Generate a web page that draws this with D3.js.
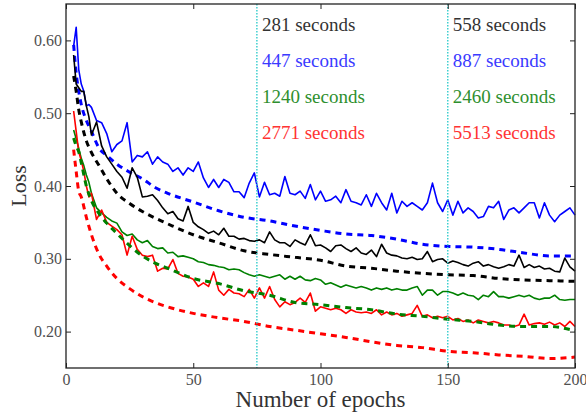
<!DOCTYPE html>
<html>
<head>
<meta charset="utf-8">
<script src="https://cdnjs.cloudflare.com/ajax/libs/d3/7.8.5/d3.min.js"></script>
<style>
  body { margin: 0; background: #fff; }
</style>
</head>
<body>
<div id="chart"></div>
<script>
// epochs for the noisy (solid) runs and for the smooth (dashed) runs
var epochs = d3.range(3, 10).concat(d3.range(10, 201, 2));
var smoothEpochs = [3, 4, 5, 6, 8, 10, 13, 16, 20, 25, 30, 35, 40, 50, 60, 70, 80, 90, 100, 110, 120, 130, 140, 150, 160, 170, 180, 190, 200];

var blueSolid = [0.592, 0.618, 0.560, 0.540, 0.530, 0.510, 0.512,
  0.508, 0.490, 0.487, 0.472, 0.447, 0.457, 0.462, 0.487, 0.433, 0.442,
  0.440, 0.447, 0.430, 0.440, 0.433, 0.430, 0.420, 0.425, 0.415, 0.425,
  0.420, 0.433, 0.411, 0.398, 0.409, 0.398, 0.409, 0.405, 0.392, 0.392,
  0.384, 0.404, 0.418, 0.385, 0.405, 0.388, 0.390, 0.386, 0.413, 0.390,
  0.388, 0.393, 0.383, 0.402, 0.381, 0.393, 0.379, 0.381, 0.386, 0.377,
  0.395, 0.379, 0.377, 0.374, 0.388, 0.372, 0.390, 0.377, 0.367, 0.390,
  0.363, 0.379, 0.372, 0.377, 0.372, 0.367, 0.377, 0.404, 0.377, 0.365,
  0.381, 0.360, 0.379, 0.363, 0.370, 0.365, 0.356, 0.358, 0.372, 0.370,
  0.379, 0.354, 0.367, 0.370, 0.363, 0.370, 0.377, 0.377, 0.356, 0.377,
  0.360, 0.351, 0.360, 0.365, 0.370, 0.360];

var blackSolid = [0.580, 0.540, 0.535, 0.530, 0.530, 0.510, 0.495,
  0.470, 0.488, 0.455, 0.440, 0.430, 0.420, 0.412, 0.397, 0.425, 0.412,
  0.385, 0.386, 0.388, 0.380, 0.370, 0.362, 0.365, 0.355, 0.352, 0.372,
  0.350, 0.344, 0.340, 0.335, 0.338, 0.333, 0.342, 0.331, 0.331, 0.327,
  0.328, 0.325, 0.324, 0.326, 0.322, 0.337, 0.326, 0.322, 0.322, 0.317,
  0.326, 0.322, 0.319, 0.333, 0.318, 0.319, 0.315, 0.310, 0.318, 0.319,
  0.314, 0.310, 0.315, 0.308, 0.306, 0.312, 0.303, 0.320, 0.308, 0.305,
  0.304, 0.301, 0.300, 0.302, 0.299, 0.300, 0.310, 0.296, 0.299, 0.300,
  0.294, 0.297, 0.295, 0.292, 0.290, 0.294, 0.296, 0.290, 0.292, 0.289,
  0.287, 0.289, 0.292, 0.290, 0.305, 0.288, 0.292, 0.288, 0.290, 0.286,
  0.287, 0.283, 0.282, 0.301, 0.289, 0.283];

var greenSolid = [0.477, 0.465, 0.452, 0.438, 0.428, 0.415, 0.405,
  0.390, 0.370, 0.363, 0.357, 0.352, 0.349, 0.337, 0.332, 0.334, 0.326,
  0.322, 0.325, 0.317, 0.314, 0.315, 0.308, 0.309, 0.303, 0.304, 0.302,
  0.300, 0.296, 0.295, 0.292, 0.291, 0.289, 0.288, 0.285, 0.286, 0.285,
  0.281, 0.278, 0.276, 0.278, 0.276, 0.274, 0.276, 0.278, 0.272, 0.276,
  0.272, 0.276, 0.271, 0.270, 0.273, 0.271, 0.265, 0.267, 0.264, 0.261,
  0.264, 0.262, 0.260, 0.262, 0.260, 0.257, 0.260, 0.258, 0.260, 0.257,
  0.259, 0.257, 0.257, 0.260, 0.262, 0.250, 0.257, 0.257, 0.250, 0.255,
  0.255, 0.253, 0.250, 0.253, 0.250, 0.249, 0.244, 0.250, 0.248, 0.255,
  0.248, 0.248, 0.246, 0.248, 0.250, 0.248, 0.250, 0.246, 0.244, 0.246,
  0.246, 0.250, 0.244, 0.243, 0.244, 0.244];

var redSolid = [0.503, 0.475, 0.447, 0.435, 0.420, 0.400, 0.385,
  0.390, 0.354, 0.367, 0.350, 0.345, 0.340, 0.333, 0.305, 0.331, 0.313,
  0.305, 0.303, 0.305, 0.283, 0.287, 0.286, 0.299, 0.280, 0.276, 0.275,
  0.272, 0.262, 0.267, 0.262, 0.282, 0.257, 0.250, 0.258, 0.253, 0.252,
  0.248, 0.258, 0.246, 0.260, 0.246, 0.262, 0.244, 0.234, 0.241, 0.237,
  0.240, 0.246, 0.240, 0.253, 0.228, 0.234, 0.232, 0.230, 0.232, 0.230,
  0.225, 0.230, 0.227, 0.226, 0.227, 0.225, 0.230, 0.223, 0.227, 0.223,
  0.225, 0.221, 0.223, 0.225, 0.236, 0.221, 0.223, 0.219, 0.221, 0.219,
  0.221, 0.216, 0.218, 0.214, 0.216, 0.212, 0.216, 0.214, 0.212, 0.214,
  0.212, 0.209, 0.209, 0.207, 0.209, 0.224, 0.209, 0.211, 0.212, 0.210,
  0.213, 0.209, 0.212, 0.207, 0.214, 0.207];

var blueDashed = [0.594, 0.555, 0.530, 0.512, 0.490, 0.475, 0.452, 0.442, 0.430, 0.419, 0.410, 0.398, 0.390, 0.378, 0.366, 0.357, 0.352, 0.345, 0.339, 0.334, 0.332, 0.327, 0.320, 0.317, 0.316, 0.313, 0.308, 0.304, 0.304];
var blackDashed = [0.551, 0.530, 0.505, 0.488, 0.462, 0.446, 0.428, 0.410, 0.390, 0.376, 0.365, 0.356, 0.348, 0.333, 0.322, 0.311, 0.306, 0.302, 0.298, 0.290, 0.287, 0.283, 0.280, 0.278, 0.277, 0.273, 0.271, 0.270, 0.269];
var greenDashed = [0.466, 0.455, 0.447, 0.432, 0.400, 0.380, 0.362, 0.349, 0.335, 0.318, 0.304, 0.294, 0.287, 0.273, 0.266, 0.256, 0.250, 0.240, 0.237, 0.233, 0.230, 0.224, 0.221, 0.217, 0.214, 0.209, 0.207, 0.207, 0.201];
var redDashed = [0.450, 0.420, 0.393, 0.385, 0.357, 0.333, 0.306, 0.290, 0.273, 0.259, 0.248, 0.240, 0.234, 0.225, 0.219, 0.214, 0.207, 0.202, 0.197, 0.192, 0.186, 0.181, 0.178, 0.173, 0.171, 0.168, 0.166, 0.163, 0.165];

var markerEpochs = [75, 150];
var timeLabels = [
  ["281 seconds", "447 seconds", "1240 seconds", "2771 seconds"],
  ["558 seconds", "887 seconds", "2460 seconds", "5513 seconds"]
];
var labelColors = ["#333333", "#3a3aff", "#2e8f2e", "#ff3333"];
var xTicks = [0, 50, 100, 150, 200];
var yTicks = [0.2, 0.3, 0.4, 0.5, 0.6];

var serif = "'Liberation Serif', 'Times New Roman', 'DejaVu Serif', serif";

var margin = { top: 4, right: 11, bottom: 44, left: 66 };
var width = 586 - margin.left - margin.right;
var height = 412 - margin.top - margin.bottom;

var svg = d3
  .select("#chart")
  .append("svg")
  .attr("width", 586)
  .attr("height", 412)
  .append("g")
  .attr("transform", "translate(" + margin.left + "," + margin.top + ")");

var x = d3.scaleLinear().domain([0, 200]).range([0, width]);
var y = d3.scaleLinear().domain([0.15, 0.65]).range([height, 0]);

var solidLine = d3
  .line()
  .x(function (d, i) { return x(epochs[i]); })
  .y(function (d) { return y(d); });

var dashedLine = d3
  .line()
  .curve(d3.curveMonotoneX)
  .x(function (d, i) { return x(smoothEpochs[i]); })
  .y(function (d) { return y(d); });

var series = [
  { values: blueSolid, color: "#0000ff", dashed: false },
  { values: blueDashed, color: "#0000ff", dashed: true },
  { values: blackSolid, color: "#000000", dashed: false },
  { values: blackDashed, color: "#000000", dashed: true },
  { values: greenSolid, color: "#008000", dashed: false },
  { values: redSolid, color: "#ff0000", dashed: false },
  { values: greenDashed, color: "#008000", dashed: true },
  { values: redDashed, color: "#ff0000", dashed: true }
];

series.forEach(function (s) {
  svg
    .append("path")
    .datum(s.values)
    .attr("fill", "none")
    .attr("stroke", s.color)
    .attr("stroke-width", s.dashed ? 3 : 1.6)
    .attr("stroke-dasharray", s.dashed ? "6,5" : null)
    .attr("stroke-linejoin", "round")
    .attr("d", s.dashed ? dashedLine : solidLine);
});

// vertical markers
svg
  .selectAll(".marker")
  .data(markerEpochs)
  .enter()
  .append("line")
  .attr("class", "marker")
  .attr("x1", function (d) { return x(d); })
  .attr("x2", function (d) { return x(d); })
  .attr("y1", 0)
  .attr("y2", height)
  .attr("stroke", "#3fcfcf")
  .attr("stroke-width", 1.5)
  .attr("stroke-dasharray", "1.5,1.5");

// timing labels
markerEpochs.forEach(function (e, k) {
  timeLabels[k].forEach(function (t, j) {
    svg
      .append("text")
      .attr("x", x(e) + 5)
      .attr("y", 27 + j * 36)
      .attr("font-family", serif)
      .attr("font-size", "19px")
      .attr("fill", labelColors[j])
      .text(t);
  });
});

// axes with inward ticks
function styleAxis(g) {
  g.attr("font-family", serif).attr("font-size", 16);
  g.select(".domain").remove();
  g.selectAll(".tick line").attr("stroke", "#222").attr("stroke-width", 1);
  g.selectAll(".tick text").attr("fill", "#505050");
}

svg
  .append("g")
  .attr("transform", "translate(0," + height + ")")
  .call(d3.axisBottom(x).tickValues(xTicks).tickSize(-5).tickPadding(6).tickFormat(d3.format("d")))
  .call(styleAxis);

svg
  .append("g")
  .call(d3.axisLeft(y).tickValues(yTicks).tickSize(-5).tickPadding(4).tickFormat(d3.format(".2f")))
  .call(styleAxis);

svg
  .append("g")
  .call(d3.axisTop(x).tickValues(xTicks).tickSize(-5).tickFormat(""))
  .call(styleAxis);

svg
  .append("g")
  .attr("transform", "translate(" + width + ",0)")
  .call(d3.axisRight(y).tickValues(yTicks).tickSize(-5).tickFormat(""))
  .call(styleAxis);

// frame
svg
  .append("rect")
  .attr("width", width)
  .attr("height", height)
  .attr("fill", "none")
  .attr("stroke", "#222")
  .attr("stroke-width", 1.3);

// axis titles
svg
  .append("text")
  .attr("x", width / 2)
  .attr("y", height + 39)
  .attr("text-anchor", "middle")
  .attr("font-family", serif)
  .attr("font-size", "23px")
  .attr("fill", "#333")
  .text("Number of epochs");

svg
  .append("text")
  .attr("transform", "translate(" + (-40) + "," + 182 + ") rotate(-90)")
  .attr("text-anchor", "middle")
  .attr("font-family", serif)
  .attr("font-size", "22px")
  .attr("fill", "#333")
  .text("Loss");
</script>
</body>
</html>
